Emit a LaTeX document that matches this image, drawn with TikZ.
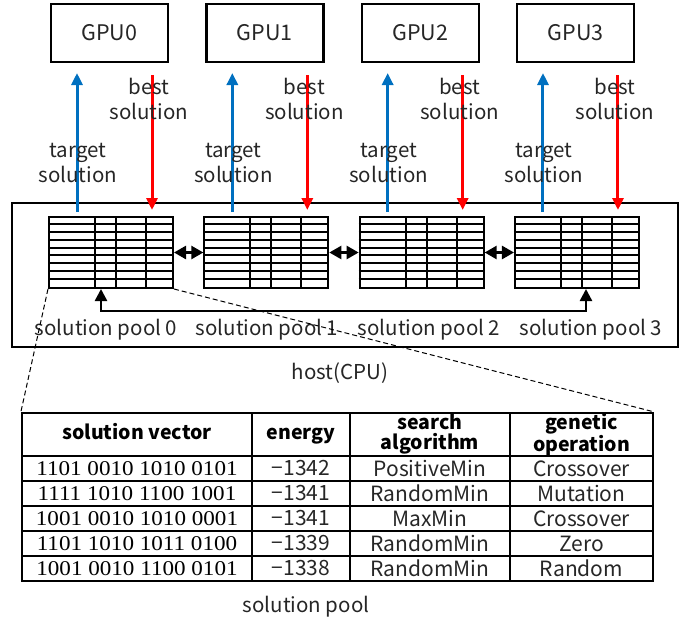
\documentclass[tikz,border=0pt]{standalone}
\usepackage{fontspec}
\setmainfont{Noto Sans CJK JP}
\newfontfamily\serf{Liberation Serif}
\usetikzlibrary{arrows.meta}
\definecolor{blu}{HTML}{0070C0}
\definecolor{txt}{HTML}{262626}
\begin{document}
\begin{tikzpicture}[x=1pt,y=-1pt,
  gpubox/.style={draw,line width=2.2pt,minimum width=117pt,minimum height=58pt,inner sep=0pt,font=\fontsize{21.5}{24}\selectfont,text=txt},
  lbl/.style={align=center,font=\fontsize{20.5}{25}\selectfont,text=txt,inner sep=0pt},
  upar/.style={draw=blu,line width=3pt,-{Triangle[length=12pt,width=11pt]}},
  dnar/.style={draw=red,line width=3pt,-{Triangle[length=12pt,width=11pt]}},
  poolbox/.style={draw,line width=2pt,minimum width=124pt,minimum height=71pt,inner sep=0pt},
  gridln/.style={line width=2pt},
  xchg/.style={line width=2.5pt,{Triangle[length=12pt,width=13pt]}-{Triangle[length=12pt,width=13pt]}},
  zoomln/.style={line width=1pt,dash pattern=on 5pt off 3pt},
  hdr/.style={align=center,font=\bfseries\fontsize{19.5}{20}\selectfont,inner sep=0pt},
  cell/.style={font=\fontsize{21}{22}\selectfont,text=txt,inner sep=0pt},
  vec/.style={font=\serf\fontsize{21}{22}\selectfont,text=black,inner sep=0pt},
  tline/.style={line width=1.8pt}]
\useasboundingbox (0,0) rectangle (686,622);

% host box
\node[draw,line width=2.2pt,minimum width=666pt,minimum height=144pt,inner sep=0pt] (host) at (345,275) {};

\foreach \i in {0,1,2,3}{
  \pgfmathsetmacro{\gx}{109.5+155.4*\i}
  \pgfmathsetmacro{\px}{111+155.33*\i}
  \node[gpubox] (g\i) at (\gx,33) {GPU\i};
  \node[poolbox] (p\i) at (\px,252.5) {};
  % grid
  \foreach \r in {1,...,8}{
    \draw[gridln] ([yshift=-7.889*\r]p\i.north west) -- ([yshift=-7.889*\r]p\i.north east);
  }
  \foreach \c in {47,68,98}{
    \draw[gridln] ([xshift=\c]p\i.north west) -- ([xshift=\c]p\i.south west);
  }
  % arrow endpoints
  \coordinate (bs\i) at (\px-34,212);
  \coordinate (bt\i) at (\px-34,73);
  \coordinate (rs\i) at (\px+41,75);
  \coordinate (rt\i) at (\px+41,210);
  \draw[upar] (bs\i) -- (bt\i);
  \draw[dnar] (rs\i) -- (rt\i);
  \node[lbl] (tl\i) at (\px-33,162.5) {target\\solution};
  \node[lbl] (bl\i) at (\px+38,99) {best\\solution};
}

% exchange arrows between neighbouring pools
\draw[xchg] (p0.east) -- (p1.west);
\draw[xchg] (p1.east) -- (p2.west);
\draw[xchg] (p2.east) -- (p3.west);

% ring arrow between pool 0 and pool 3
\coordinate (q0) at ([xshift=-10pt]p0.south);
\coordinate (q3) at ([xshift=9pt]p3.south);
\draw[line width=2.5pt,{Triangle[length=12pt,width=12pt]}-{Triangle[length=12pt,width=12pt]}] (q0) -- ++(0,22) -| (q3);

% pool labels
\node[lbl] (pl0) at (106,330) {solution pool 0};
\node[lbl] (pl1) at (267,330) {solution pool 1};
\node[lbl] (pl2) at (429,330) {solution pool 2};
\node[lbl] (pl3) at (591,330) {solution pool 3};
\node[lbl] (hostl) at (340,373) {host(CPU)};

% table
\node[draw,line width=2.2pt,minimum width=631pt,minimum height=168pt,inner sep=0pt] (tbl) at (337.5,497) {};
\draw[zoomln] (p0.south west) -- (tbl.north west);
\draw[zoomln] (p0.south east) -- (tbl.north east);
\foreach \yy in {456,481,506,531,556}{
  \draw[tline] (22,\yy) -- (653,\yy);
}
\foreach \xx in {252,350,510}{
  \draw[tline] (\xx,413) -- (\xx,581);
}
\node[hdr,anchor=base] (h1) at (137,439) {solution vector};
\node[hdr,anchor=base] (h2) at (301,439) {energy};
\node[hdr] (h3) at (430,434) {search\\algorithm};
\node[hdr] (h4) at (581.5,434) {genetic\\operation};

\foreach \v/\e/\s/\g [count=\k from 0] in {
  1101 0010 1010 0101/1342/PositiveMin/Crossover,
  1111 1010 1100 1001/1341/RandomMin/Mutation,
  1001 0010 1010 0001/1341/MaxMin/Crossover,
  1101 1010 1011 0100/1339/RandomMin/Zero,
  1001 0010 1100 0101/1338/RandomMin/Random}{
  \pgfmathsetmacro{\ry}{468.5+25*\k}
  \node[vec] (v\k) at (137,\ry) {\scalebox{1.1}[1]{\v}};
  \node[cell] (e\k) at (301,\ry) {−\e};
  \node[cell] (s\k) at (430,\ry) {\s};
  \node[cell] (o\k) at (581.5,\ry) {\g};
}
\node[lbl] (cap) at (306,607) {solution pool};
\end{tikzpicture}
\end{document}
